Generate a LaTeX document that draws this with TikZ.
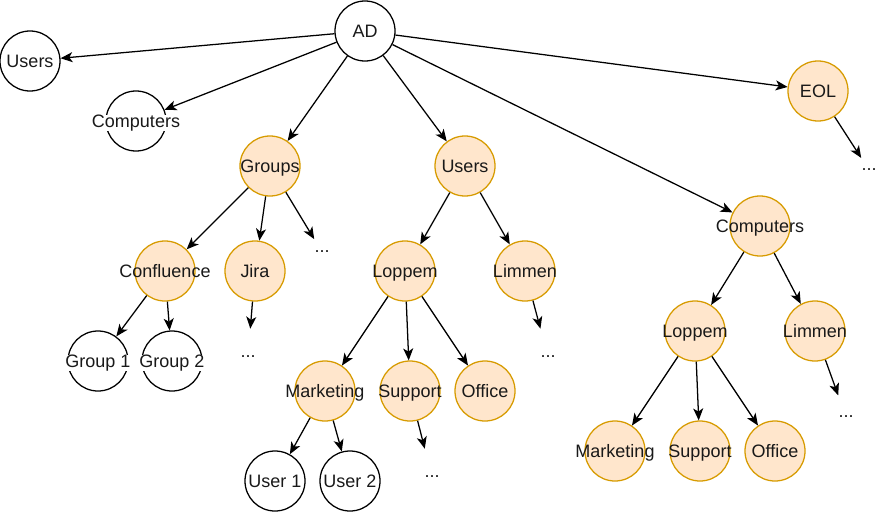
\documentclass[tikz,border=0pt]{standalone}
\usepackage{fontspec}
\setmainfont{Liberation Sans}
\usepackage{xcolor}
\usepackage{tikz}
\usetikzlibrary{arrows.meta, positioning}
\definecolor{unitfill}{HTML}{FFE6CC}
\definecolor{unitdraw}{HTML}{D79B00}

\begin{document}
\begin{tikzpicture}[x=0.025cm,y=-0.025cm,
    every node/.style={font=\fontsize{12.8}{15}\selectfont,text=black!90},
    every label/.style={inner sep=0pt,text height=9pt,text depth=2.5pt,yshift=-1.5pt},
    plain/.style={circle,draw=black,line width=0.9pt,minimum size=1.5cm,inner sep=0pt,
        label={center:#1}},
    cut/.style={circle,draw=black,line width=0.9pt,minimum size=1.5cm,inner sep=0pt,
        label={[fill=white,inner xsep=0.5pt]center:#1}},
    unit/.style={circle,draw=unitdraw,fill=unitfill,line width=0.9pt,minimum size=1.5cm,inner sep=0pt,
        label={center:#1}},
    more/.style={inner sep=0pt,minimum width=0.35cm,minimum height=1.4cm},
    link/.style={-{Stealth[length=0.3cm,width=0.25cm,inset=0.08cm]},line width=0.9pt}]
    \useasboundingbox (0,0) rectangle (896,513);

    \node[plain=AD] (ad) at (365,31) {};
    \node[plain=Users] (users) at (30,61) {};
    \node[cut=Computers] (comp) at (136,121) {};
    \node[unit=Groups] (groups) at (270,166) {};
    \node[unit=Users] (ousers) at (465,166) {};
    \node[unit=EOL] (eol) at (818,91) {};
    \node[unit=Computers] (ocomp) at (760,226) {};

    \node[unit=Confluence] (confl) at (165,271) {};
    \node[unit=Jira] (jira) at (255,271) {};
    \node[unit=Loppem] (uloppem) at (405,271) {};
    \node[unit=Limmen] (ulimmen) at (525,271) {};
    \node[unit=Loppem] (cloppem) at (695,331) {};
    \node[unit=Limmen] (climmen) at (815,331) {};

    \node[cut=Group 1] (grp1) at (98,361) {};
    \node[cut=Group 2] (grp2) at (172,361) {};
    \node[unit=Marketing] (umarket) at (325,391) {};
    \node[unit=Support] (usupport) at (410,391) {};
    \node[unit=Office] (uoffice) at (485,391) {};
    \node[plain=User 1] (user1) at (275,481) {};
    \node[plain=User 2] (user2) at (350,481) {};
    \node[unit=Marketing] (cmarket) at (615,451) {};
    \node[unit=Support] (csupport) at (700,451) {};
    \node[unit=Office] (coffice) at (775,451) {};

    \node[more] (moregroups) at (322,252) {...};
    \node[more] (morejira) at (248,357) {...};
    \node[more] (morelimmen) at (548,357) {...};
    \node[more] (moresupport) at (432,477) {...};
    \node[more] (moreclimmen) at (846,417) {...};
    \node[more] (moreeol) at (869,170) {...};

    \draw[link] (ad) -- (users);
    \draw[link] (ad) -- (comp);
    \draw[link] (ad) -- (groups);
    \draw[link] (ad) -- (ousers);
    \draw[link] (ad) -- (ocomp);
    \draw[link] (ad) -- (eol);
    \draw[link] (eol) -- (moreeol);

    \draw[link] (groups) -- (confl);
    \draw[link] (groups) -- (jira);
    \draw[link] (groups) -- (moregroups);
    \draw[link] (confl) -- (grp1);
    \draw[link] (confl) -- (grp2);
    \draw[link] (jira) -- (morejira);

    \draw[link] (ousers) -- (uloppem);
    \draw[link] (ousers) -- (ulimmen);
    \draw[link] (ulimmen) -- (morelimmen);
    \draw[link] (uloppem) -- (umarket);
    \draw[link] (uloppem) -- (usupport);
    \draw[link] (uloppem) -- (uoffice);
    \draw[link] (umarket) -- (user1);
    \draw[link] (umarket) -- (user2);
    \draw[link] (usupport) -- (moresupport);

    \draw[link] (ocomp) -- (cloppem);
    \draw[link] (ocomp) -- (climmen);
    \draw[link] (climmen) -- (moreclimmen);
    \draw[link] (cloppem) -- (cmarket);
    \draw[link] (cloppem) -- (csupport);
    \draw[link] (cloppem) -- (coffice);
\end{tikzpicture}
\end{document}
